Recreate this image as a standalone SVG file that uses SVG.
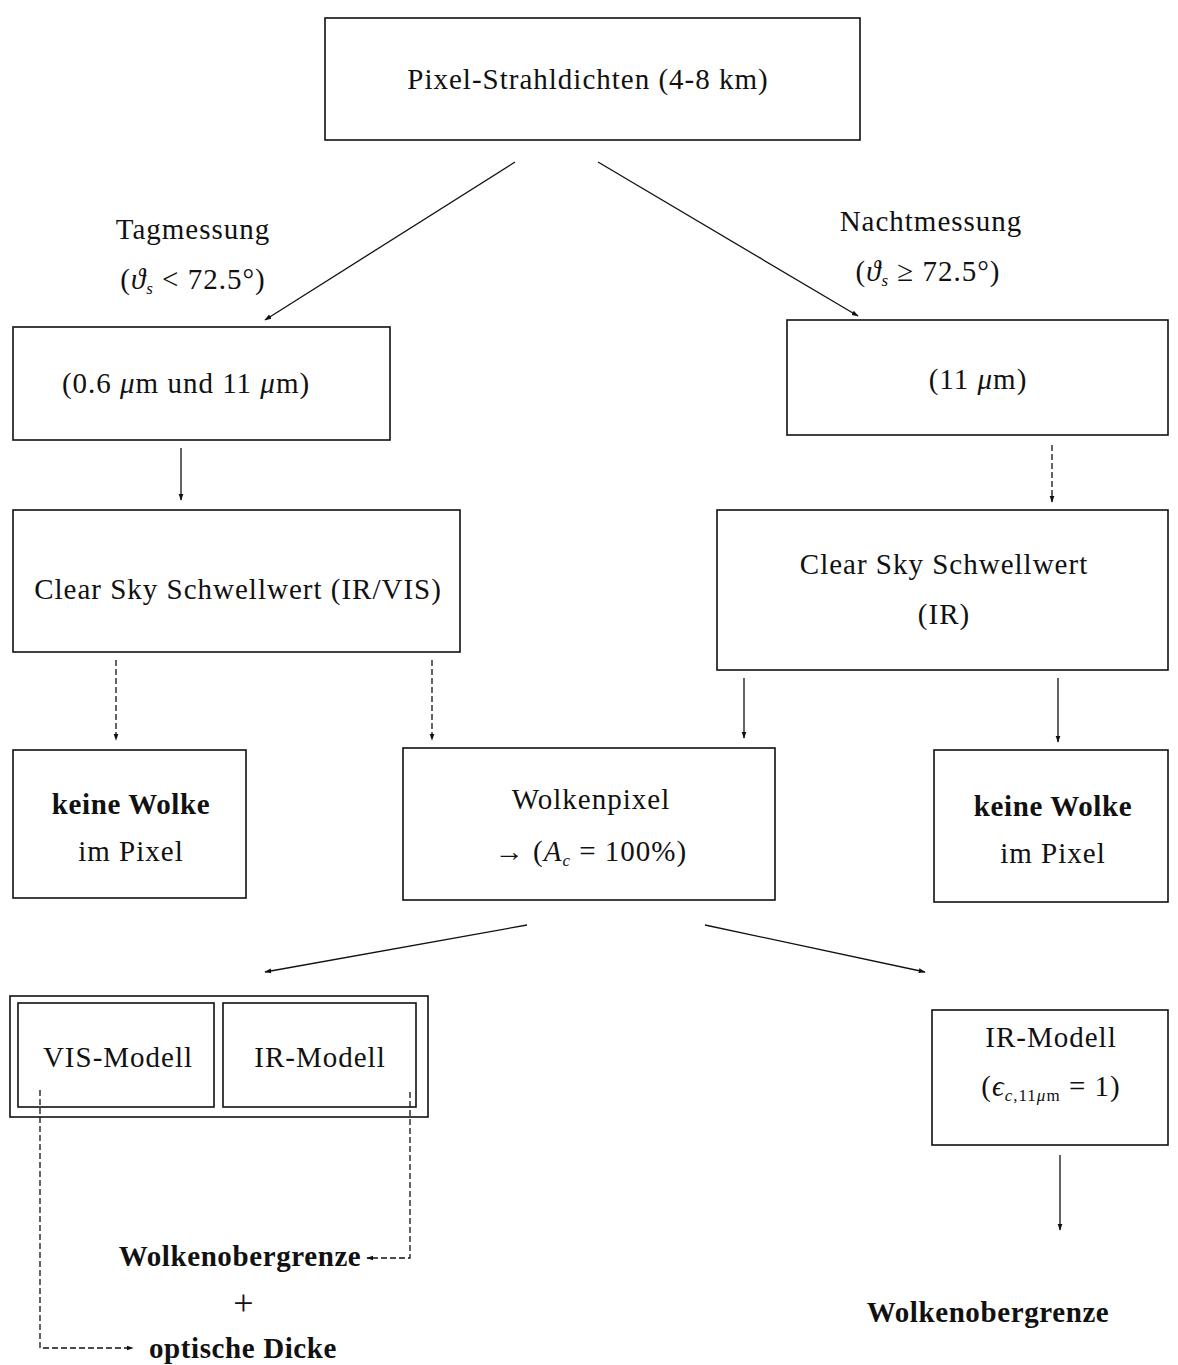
<svg xmlns="http://www.w3.org/2000/svg" width="1178" height="1365" viewBox="0 0 1178 1365">
<defs>
<style>
.box{fill:none;stroke:#111;stroke-width:1.6}
.t{font-family:"Liberation Serif","DejaVu Serif",serif;font-size:29px;letter-spacing:1px;fill:#111;text-anchor:middle}
.b{font-weight:bold;letter-spacing:0.6px}
.i{font-style:italic}
.c{fill:none;stroke:#111;stroke-width:1.3}
.d{stroke-dasharray:6 3}
</style>
<marker id="ah" viewBox="0 0 10 10" refX="9" refY="5" markerWidth="7" markerHeight="7" orient="auto-start-reverse" markerUnits="userSpaceOnUse">
<path d="M0,1.5 L10,5 L0,8.5 z" fill="#111"/>
</marker>
</defs>
<rect width="1178" height="1365" fill="#fff"/>

<g id="n-top"><rect class="box" x="325" y="18" width="535" height="122"/><text class="t" x="588" y="89">Pixel-Strahldichten (4-8 km)</text></g>
<g id="l-tag"><text class="t" x="193" y="239">Tagmessung</text><text class="t" x="193" y="289">(<tspan class="i">ϑ<tspan font-size="17" dy="5">s</tspan></tspan><tspan dy="-5"> &lt; 72.5°)</tspan></text></g>
<g id="l-nacht"><text class="t" x="931" y="231">Nachtmessung</text><text class="t" x="928" y="281">(<tspan class="i">ϑ<tspan font-size="17" dy="5">s</tspan></tspan><tspan dy="-5"> ≥ 72.5°)</tspan></text></g>

<g id="n-vis11"><rect class="box" x="13" y="327" width="377" height="113"/><text class="t" x="186" y="393">(0.6 <tspan class="i">μ</tspan>m und 11 <tspan class="i">μ</tspan>m)</text></g>
<g id="n-11"><rect class="box" x="787" y="320" width="381" height="115"/><text class="t" x="978" y="389">(11 <tspan class="i">μ</tspan>m)</text></g>

<g id="n-cs-left"><rect class="box" x="13" y="510" width="447" height="142"/><text class="t" x="238" y="599">Clear Sky Schwellwert (IR/VIS)</text></g>
<g id="n-cs-right"><rect class="box" x="717" y="510" width="451" height="160"/><text class="t" x="944" y="574">Clear Sky Schwellwert</text><text class="t" x="944" y="624">(IR)</text></g>

<g id="n-kw-left"><rect class="box" x="13" y="750" width="233" height="148"/><text class="t b" x="131" y="814">keine Wolke</text><text class="t" x="131" y="861">im Pixel</text></g>
<g id="n-wp"><rect class="box" x="403" y="748" width="372" height="152"/><text class="t" x="591" y="809">Wolkenpixel</text><text class="t" x="591" y="861">→ (<tspan class="i">A</tspan><tspan class="i" font-size="17" dy="5">c</tspan><tspan dy="-5"> = 100%)</tspan></text></g>
<g id="n-kw-right"><rect class="box" x="934" y="750" width="234" height="152"/><text class="t b" x="1053" y="816">keine Wolke</text><text class="t" x="1053" y="863">im Pixel</text></g>

<g id="n-models">
<rect class="box" x="10" y="996" width="418" height="121"/>
<rect class="box" x="18" y="1003" width="196" height="104"/>
<rect class="box" x="223" y="1003" width="193" height="104"/>
<text class="t" x="118" y="1067">VIS-Modell</text>
<text class="t" x="320" y="1067">IR-Modell</text>
</g>
<g id="n-ir-right"><rect class="box" x="932" y="1010" width="236" height="135"/><text class="t" x="1051" y="1047">IR-Modell</text><text class="t" x="1051" y="1096">(<tspan class="i">ϵ</tspan><tspan font-size="17" dy="5"><tspan class="i">c</tspan>,11<tspan class="i">μ</tspan>m</tspan><tspan dy="-5"> = 1)</tspan></text></g>

<g id="r-wob-left"><text class="t b" x="240" y="1266">Wolkenobergrenze</text><text class="t" x="244" y="1315" style="font-size:36px">+</text><text class="t b" x="243" y="1358">optische Dicke</text></g>
<g id="r-wob-right"><text class="t b" x="988" y="1322">Wolkenobergrenze</text></g>

<g id="connectors">
<line class="c" x1="515" y1="162" x2="265" y2="320" marker-end="url(#ah)"/>
<line class="c" x1="598" y1="162" x2="858" y2="316" marker-end="url(#ah)"/>
<line class="c" x1="181" y1="448" x2="181" y2="500" marker-end="url(#ah)"/>
<line class="c d" x1="1052" y1="445" x2="1052" y2="502" marker-end="url(#ah)"/>
<line class="c d" x1="116" y1="660" x2="116" y2="740" marker-end="url(#ah)"/>
<line class="c d" x1="432" y1="660" x2="432" y2="740" marker-end="url(#ah)"/>
<line class="c" x1="744" y1="678" x2="744" y2="738" marker-end="url(#ah)"/>
<line class="c" x1="1058" y1="678" x2="1058" y2="742" marker-end="url(#ah)"/>
<line class="c" x1="527" y1="925" x2="265" y2="972" marker-end="url(#ah)"/>
<line class="c" x1="705" y1="925" x2="925" y2="972" marker-end="url(#ah)"/>
<line class="c" x1="1060" y1="1155" x2="1060" y2="1230" marker-end="url(#ah)"/>
<polyline class="c d" points="40,1090 40,1348 133,1348" marker-end="url(#ah)"/>
<polyline class="c d" points="410,1092 410,1258 367,1258" marker-end="url(#ah)"/>
</g>
</svg>
